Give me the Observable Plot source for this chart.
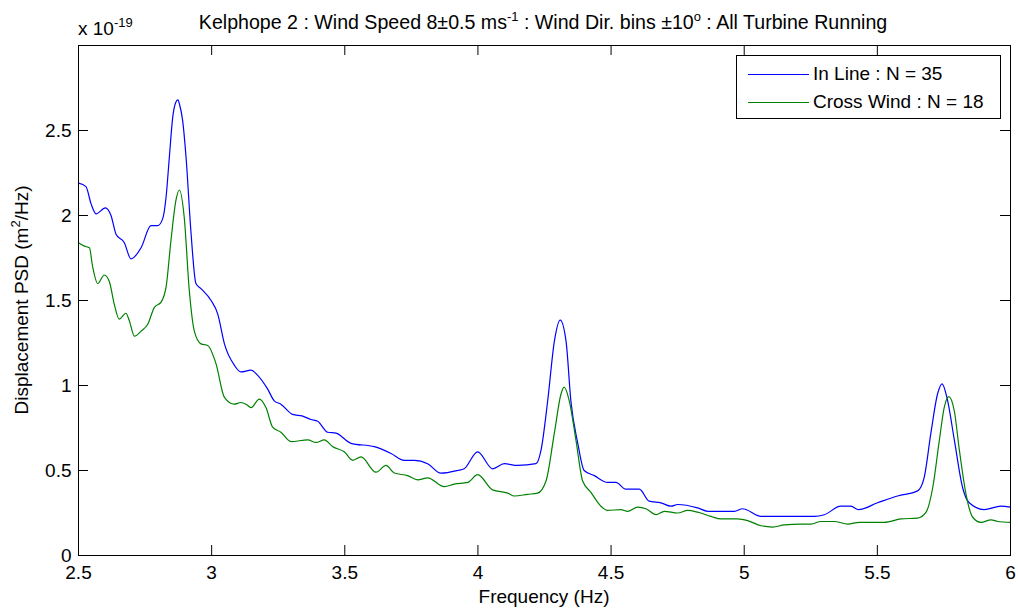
<!DOCTYPE html>
<html>
<head>
<meta charset="utf-8">
<script src="https://cdn.jsdelivr.net/npm/d3@7"></script>
<script src="https://cdn.jsdelivr.net/npm/@observablehq/plot@0.6"></script>
<style>
  body { margin: 0; background: #fff; }
  #wrap { position: relative; width: 1018px; height: 609px; font-family: "Liberation Sans", Arial, Helvetica, sans-serif; color: #000; overflow: hidden; }
  .abs { position: absolute; white-space: nowrap; font-size: 19px; line-height: 19px; }
  .sup { font-size: 13px; position: relative; top: -8px; }
  #legend { position: absolute; left: 736px; top: 55px; width: 263px; height: 62px; border: 1px solid #000; background: #fff; font-size: 19px; }
  .row { position: absolute; left: 0; height: 20px; line-height: 20px; white-space: nowrap; }
  .swatch { position: absolute; left: 11px; width: 61px; height: 1px; top: 10px; }
  .lbl { position: absolute; left: 76px; top: 0; }
</style>
</head>
<body>
<div id="wrap">
  <div id="chart"></div>
  <div class="abs" id="title" style="left:543px; top:13px; transform:translateX(-50%); font-size:19.6px;">Kelphope 2 : Wind Speed 8±0.5 ms<span class="sup">-1</span> : Wind Dir. bins ±10<span class="sup">o</span> : All Turbine Running</div>
  <div class="abs" style="left:78px; top:19px;">x 10<span class="sup">-19</span></div>
  <div class="abs" style="left:22px; top:300px; transform:translate(-50%,-50%) rotate(-90deg);">Displacement PSD (m<span class="sup">2</span>/Hz)</div>
  <div class="abs" style="left:544px; top:587px; transform:translateX(-50%);">Frequency (Hz)</div>
  <div id="legend"></div>
</div>
<script>
// ---- data ----
const seriesNames = ["In Line : N = 35", "Cross Wind : N = 18"];
const seriesColors = ["#0000ff", "#008000"];

const freqInLine = [2.500,2.528,2.547,2.566,2.601,2.622,2.641,2.672,2.697,2.735,2.772,2.797,2.816,2.829,2.841,2.854,2.864,2.873,2.880,2.891,2.904,2.922,2.941,2.960,2.998,3.023,3.048,3.085,3.110,3.148,3.173,3.210,3.235,3.260,3.304,3.342,3.373,3.398,3.436,3.467,3.523,3.611,3.674,3.723,3.761,3.811,3.861,3.924,3.948,3.999,4.055,4.099,4.149,4.218,4.237,4.262,4.287,4.309,4.331,4.349,4.375,4.399,4.437,4.487,4.518,4.556,4.606,4.643,4.687,4.725,4.750,4.825,4.863,4.963,4.994,5.063,5.263,5.301,5.363,5.401,5.429,5.501,5.576,5.651,5.676,5.701,5.726,5.743,5.764,5.789,5.820,5.845,5.901,5.964,6.000];
const psdInLine = [2.19,2.17,2.07,2.01,2.045,2.00,1.89,1.84,1.745,1.81,1.94,1.94,1.98,2.11,2.34,2.58,2.66,2.68,2.65,2.56,2.34,1.91,1.60,1.57,1.50,1.42,1.245,1.12,1.08,1.09,1.06,0.98,0.91,0.89,0.83,0.82,0.80,0.79,0.725,0.72,0.66,0.64,0.60,0.56,0.56,0.54,0.484,0.50,0.51,0.61,0.51,0.54,0.53,0.54,0.62,0.91,1.26,1.385,1.26,0.91,0.66,0.50,0.47,0.43,0.43,0.39,0.39,0.32,0.31,0.29,0.30,0.28,0.26,0.26,0.275,0.23,0.23,0.24,0.29,0.29,0.27,0.31,0.35,0.38,0.46,0.72,0.95,1.01,0.91,0.68,0.40,0.31,0.27,0.29,0.285];

const freqCross = [2.500,2.522,2.541,2.553,2.572,2.597,2.616,2.634,2.653,2.678,2.691,2.710,2.735,2.760,2.785,2.810,2.829,2.847,2.866,2.879,2.897,2.916,2.935,2.960,2.985,3.016,3.048,3.085,3.110,3.129,3.148,3.179,3.204,3.229,3.260,3.298,3.361,3.392,3.423,3.455,3.498,3.530,3.561,3.617,3.655,3.686,3.736,3.774,3.811,3.874,3.911,3.962,3.999,4.055,4.112,4.137,4.187,4.224,4.256,4.287,4.312,4.324,4.343,4.368,4.393,4.425,4.462,4.487,4.537,4.562,4.600,4.631,4.669,4.700,4.750,4.788,4.825,4.875,4.913,4.975,5.013,5.063,5.107,5.150,5.213,5.251,5.288,5.338,5.389,5.432,5.526,5.589,5.651,5.683,5.708,5.733,5.751,5.768,5.789,5.808,5.833,5.858,5.889,5.927,5.952,6.000];
const psdCross = [1.84,1.82,1.81,1.70,1.60,1.65,1.61,1.48,1.39,1.425,1.38,1.29,1.32,1.36,1.46,1.49,1.58,1.85,2.09,2.15,1.99,1.56,1.32,1.245,1.235,1.13,0.93,0.89,0.90,0.89,0.87,0.92,0.87,0.755,0.725,0.67,0.68,0.665,0.68,0.64,0.61,0.56,0.58,0.49,0.53,0.485,0.47,0.445,0.457,0.405,0.42,0.43,0.476,0.386,0.367,0.35,0.36,0.367,0.44,0.72,0.95,0.99,0.91,0.68,0.44,0.37,0.29,0.265,0.27,0.26,0.285,0.275,0.24,0.26,0.25,0.265,0.255,0.23,0.215,0.215,0.205,0.175,0.167,0.18,0.185,0.185,0.20,0.20,0.185,0.195,0.195,0.215,0.22,0.255,0.40,0.68,0.87,0.935,0.85,0.62,0.36,0.225,0.195,0.21,0.20,0.195];

const xTicks = [2.5,3,3.5,4,4.5,5,5.5,6];
const yTicks = [0,0.5,1,1.5,2,2.5];
const xDomain = [2.5, 6];
const yDomain = [0, 3];

// ---- build ----
const inLine = freqInLine.map((f, i) => ({f, v: psdInLine[i]}));
const cross = freqCross.map((f, i) => ({f, v: psdCross[i]}));

const W = 1018, H = 609;
const mL = 78, mR = 8, mT = 45, mB = 54;
const plotW = W - mL - mR, plotH = H - mT - mB;
const T = 10;

const chart = Plot.plot({
  width: W, height: H,
  marginLeft: mL, marginRight: mR, marginTop: mT, marginBottom: mB,
  style: {fontFamily: '"Liberation Sans", Arial, Helvetica, sans-serif', fontSize: "19px", color: "#000", background: "#fff"},
  x: {domain: xDomain},
  y: {domain: yDomain},
  marks: [
    Plot.axisX(xTicks, {tickSize: 0, tickPadding: 10, label: null, tickFormat: d => String(d), fontSize: 19}),
    Plot.axisY(yTicks, {tickSize: 0, tickPadding: 7, label: null, tickFormat: d => String(d), fontSize: 19}),
    Plot.ruleX(xTicks, {x: d => d, insetTop: plotH - T, stroke: "#000"}),
    Plot.ruleX(xTicks, {x: d => d, insetBottom: plotH - T, stroke: "#000"}),
    Plot.ruleY(yTicks, {y: d => d, insetRight: plotW - T, stroke: "#000"}),
    Plot.ruleY(yTicks, {y: d => d, insetLeft: plotW - T, stroke: "#000"}),
    Plot.line(inLine, {x: "f", y: "v", stroke: seriesColors[0], strokeWidth: 1.2, curve: "monotone-x"}),
    Plot.line(cross, {x: "f", y: "v", stroke: seriesColors[1], strokeWidth: 1.2, curve: "monotone-x"}),
    Plot.frame({stroke: "#000"})
  ]
});
document.getElementById("chart").appendChild(chart);

// legend
const lg = document.getElementById("legend");
seriesNames.forEach((name, i) => {
  const row = document.createElement("div");
  row.className = "row";
  row.style.top = (8 + i * 28) + "px";
  row.style.width = "100%";
  const sw = document.createElement("div");
  sw.className = "swatch";
  sw.style.background = seriesColors[i];
  const lb = document.createElement("div");
  lb.className = "lbl";
  lb.textContent = name;
  row.appendChild(sw); row.appendChild(lb);
  lg.appendChild(row);
});
</script>
</body>
</html>
